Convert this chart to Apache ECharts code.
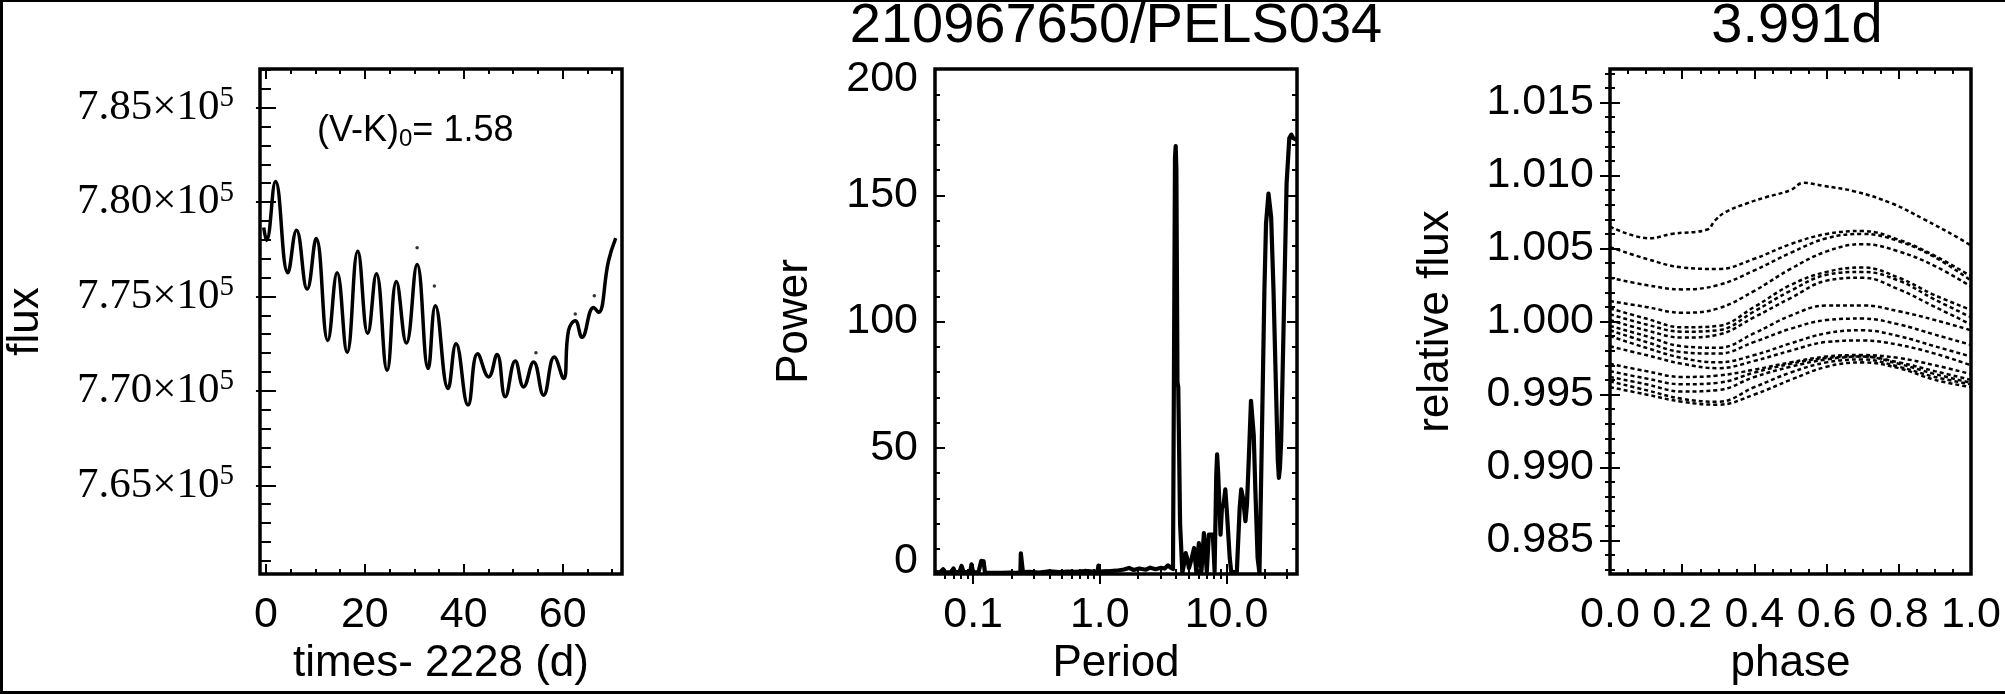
<!DOCTYPE html>
<html><head><meta charset="utf-8">
<script src="https://cdn.jsdelivr.net/npm/echarts@6/dist/echarts.min.js"></script>
<style>html,body{margin:0;padding:0;background:#fff}#c{width:2005px;height:694px}</style>
</head><body><div id="c"></div>
<script>
// ---------------- Panel 1 : light curve ----------------
const lcTime = [-0.45, 0.12, 1.94, 4.43, 6.18, 8.34, 10.16, 12.51, 14.4, 16.42, 18.57, 20.59, 22.34, 24.5, 26.38, 28.4, 30.57, 32.8, 34.26, 36.83, 38.44, 40.87, 42.81, 45.03, 46.73, 48.4, 50.42, 52.1, 54.12, 56.14, 58.3, 60.18, 61.19, 62.55, 63.9, 66.24, 67.25, 69.27, 70.73];
const lcFlux = [778650, 777970, 781090, 776260, 778510, 775390, 778070, 772670, 776260, 772050, 777400, 773050, 776210, 771090, 775790, 772530, 776700, 771180, 774510, 770130, 772500, 769250, 771970, 770740, 771930, 769690, 771580, 770210, 771530, 769770, 771790, 770650, 773200, 773720, 772840, 774420, 774160, 776880, 778090];
const lcOutTime = [30.57, 34.06, 54.6, 62.55, 66.4];
const lcOutFlux = [777580, 775560, 772020, 774070, 775040];
const timeTicks = [0, 20, 40, 60];
const fluxTicks = [765000, 770000, 775000, 780000, 785000];

// ---------------- Panel 2 : periodogram ----------------
const pgPeriod = [0.050, 0.055, 0.058, 0.060, 0.062, 0.067, 0.070, 0.072, 0.078, 0.081, 0.084, 0.090, 0.095, 0.097, 0.100, 0.110, 0.116, 0.118, 0.121, 0.124, 0.140, 0.170, 0.195, 0.200, 0.206, 0.225, 0.236, 0.238, 0.243, 0.247, 0.280, 0.330, 0.400, 0.480, 0.560, 0.650, 0.760, 0.880, 0.960, 0.975, 0.990, 1.15, 1.35, 1.55, 1.70, 1.85, 2.05, 2.30, 2.50, 2.75, 3.00, 3.25, 3.45, 3.60, 3.78, 3.92, 3.97, 4.02, 4.10, 4.16, 4.30, 4.48, 4.62, 4.76, 4.90, 5.05, 5.30, 5.55, 5.77, 6.05, 6.34, 6.63, 6.99, 7.25, 7.80, 8.05, 8.30, 8.43, 8.60, 8.97, 9.20, 9.48, 9.78, 10.10, 10.60, 10.90, 12.06, 12.70, 13.06, 13.50, 14.10, 14.50, 15.00, 15.60, 16.00, 16.40, 16.90, 17.60, 18.20, 18.80, 19.90, 20.50, 21.44, 22.50, 23.50, 24.60, 25.40, 25.90, 26.40, 27.00, 28.60, 29.80, 31.30, 32.50, 33.60, 35.90];
const pgPower = [0.8, 0.7, 1.9, 0.7, 0.8, 0.8, 2.2, 0.8, 0.8, 3.2, 0.8, 0.8, 0.9, 3.8, 0.8, 0.6, 5.2, 5.0, 5.0, 0.6, 0.5, 0.5, 0.6, 1.3, 0.5, 0.6, 0.8, 8.2, 7.5, 0.8, 0.9, 0.6, 1.1, 0.8, 1.0, 0.9, 1.2, 1.0, 1.1, 3.3, 1.0, 1.1, 1.3, 1.8, 2.4, 1.6, 2.2, 1.7, 2.5, 1.9, 2.4, 2.2, 3.4, 2.6, 2.0, 165, 169.5, 160, 76, 74, 20, 0.5, 4, 8.3, 6, 2.3, 6, 10.3, 1.0, 12.2, 1.0, 16.2, 1.0, 15.6, 15.6, 1.0, 39.4, 47.4, 39.4, 15.6, 26.2, 27.5, 33.5, 23.5, 6.3, 0.8, 0.8, 26.2, 33.5, 30.1, 20.9, 27.5, 46, 68.6, 68.6, 55, 32.8, 6.3, 0.3, 40, 112, 138.8, 150.7, 141.4, 112, 72.5, 45, 38.1, 42, 52.7, 112, 154.7, 172.6, 174, 172.6, 172];
const periodTicks = [0.1, 1, 10];
const periodMinorTicks = [0.06, 0.07, 0.08, 0.09, 0.2, 0.3, 0.4, 0.5, 0.6, 0.7, 0.8, 0.9, 2, 3, 4, 5, 6, 7, 8, 9, 20, 30];
const powerTicks = [0, 50, 100, 150, 200];

// ---------------- Panel 3 : phase-folded curves ----------------
const cycleAPhase = [0, 0.11, 0.17, 0.27, 0.29, 0.32, 0.38, 0.43, 0.5, 0.535, 0.59, 0.68, 0.78, 0.87, 0.96, 1.0];
const cycleAFlux = [1.0065, 1.0057, 1.0060, 1.0063, 1.0069, 1.0075, 1.0081, 1.0085, 1.0090, 1.0095, 1.0093, 1.0089, 1.0081, 1.0070, 1.0058, 1.0052];
const phaseGrid = [0, 0.1, 0.2, 0.3, 0.4, 0.5, 0.6, 0.7, 0.8, 0.9, 1.0];
const cycleFlux = [
  [1.0051, 1.0043, 1.0037, 1.0036, 1.0043, 1.0053, 1.0060, 1.0062, 1.0056, 1.0045, 1.0031],
  [1.0030, 1.0025, 1.0022, 1.0025, 1.0035, 1.0047, 1.0057, 1.0060, 1.0055, 1.0044, 1.0028],
  [1.0014, 1.0010, 1.0006, 1.0009, 1.0021, 1.0036, 1.0048, 1.0053, 1.0048, 1.0038, 1.0024],
  [1.0009, 1.0002, 0.9996, 0.9997, 1.0010, 1.0025, 1.0034, 1.0037, 1.0030, 1.0018, 1.0008],
  [1.0005, 0.9998, 0.9993, 0.9994, 1.0007, 1.0021, 1.0032, 1.0034, 1.0028, 1.0015, 1.0003],
  [1.0001, 0.9994, 0.9989, 0.9991, 1.0003, 1.0016, 1.0028, 1.0030, 1.0022, 1.0010, 0.9998],
  [0.9997, 0.9990, 0.9983, 0.9982, 0.9992, 1.0004, 1.0011, 1.0011, 1.0007, 1.0001, 0.9994],
  [0.9994, 0.9986, 0.9979, 0.9978, 0.9986, 0.9995, 1.0001, 1.0002, 0.9998, 0.9991, 0.9984],
  [0.9990, 0.9982, 0.9975, 0.9972, 0.9977, 0.9985, 0.9992, 0.9994, 0.9990, 0.9983, 0.9976],
  [0.9983, 0.9977, 0.9971, 0.9968, 0.9973, 0.9980, 0.9986, 0.9987, 0.9984, 0.9978, 0.9970],
  [0.9971, 0.9966, 0.9962, 0.9963, 0.9967, 0.9972, 0.9976, 0.9977, 0.9975, 0.9970, 0.9964],
  [0.9966, 0.9961, 0.9957, 0.9958, 0.9965, 0.9971, 0.9975, 0.9976, 0.9972, 0.9966, 0.9960],
  [0.9962, 0.9957, 0.9952, 0.9953, 0.9962, 0.9969, 0.9974, 0.9976, 0.9971, 0.9964, 0.9958],
  [0.9959, 0.9953, 0.9947, 0.9945, 0.9955, 0.9965, 0.9972, 0.9974, 0.9969, 0.9962, 0.9957],
  [0.9955, 0.9950, 0.9945, 0.9943, 0.9950, 0.9960, 0.9969, 0.9972, 0.9968, 0.9960, 0.9955]
];
const phaseTicks = [0, 0.2, 0.4, 0.6, 0.8, 1.0];
const relTicks = [0.985, 0.990, 0.995, 1.000, 1.005, 1.010, 1.015];

// ---------------- helpers ----------------
function steps(a, b, s, skip) {
  const out = [];
  for (let i = 0; a + i * s <= b + 1e-9; i++) {
    const v = +(a + i * s).toFixed(6);
    if (!skip.some(k => Math.abs(k - v) < s * 1e-3)) out.push(v);
  }
  return out;
}
const SANS = 'Liberation Sans';
const LAB = 43;
const xAxes = [], yAxes = [];
function tickAxis(base, kind, vals, show, lab) {
  return Object.assign({}, base, {
    axisLine: { show: false }, splitLine: { show: false }, minorTick: { show: false },
    axisTick: { show: true, inside: true, length: kind === 'major' ? 10 : 5,
      lineStyle: { color: '#000', width: 2 }, customValues: vals },
    axisLabel: show ? lab : { show: false },
    name: show ? base.name : ''
  });
}
function addBox(g, xc, yc) {
  const xi = xAxes.length, yi = yAxes.length;
  ['bottom', 'top'].forEach(pos => {
    const b = { gridIndex: g, type: xc.type, min: xc.min, max: xc.max, position: pos, offset: 0,
      name: xc.name, nameLocation: 'middle', nameGap: xc.nameGap,
      nameTextStyle: { fontFamily: SANS, fontSize: 44, color: '#000' } };
    if (xc.type === 'log') b.logBase = 10;
    xAxes.push(tickAxis(b, 'major', xc.major, pos === 'bottom', Object.assign({ customValues: xc.major }, xc.label)));
    xAxes.push(tickAxis(b, 'minor', xc.minor, false));
  });
  ['left', 'right'].forEach(pos => {
    const b = { gridIndex: g, type: 'value', min: yc.min, max: yc.max, position: pos, offset: 0,
      name: yc.name, nameLocation: 'middle', nameGap: yc.nameGap,
      nameTextStyle: { fontFamily: SANS, fontSize: 44, color: '#000' } };
    yAxes.push(tickAxis(b, 'major', yc.major, pos === 'left', Object.assign({ customValues: yc.major }, yc.label)));
    yAxes.push(tickAxis(b, 'minor', yc.minor, false));
  });
  return [xi, yi];
}
const labSans = { color: '#000', fontFamily: SANS, fontSize: LAB };

// Panel 1 axes
const p1 = addBox(0,
  { type: 'value', min: -1.2, max: 72, major: timeTicks, minor: steps(5, 70, 5, timeTicks),
    name: 'times- 2228 (d)', nameGap: 68,
    label: Object.assign({ margin: 20, formatter: v => String(v) }, labSans) },
  { min: 760300, max: 787050, major: fluxTicks, minor: steps(761000, 787000, 1000, fluxTicks),
    name: 'flux', nameGap: 212,
    label: { margin: 26, formatter: v => '{a|' + (v / 1e5).toFixed(2) + '×10}{s|5}',
      rich: { a: { fontFamily: 'Liberation Serif', fontSize: 43, color: '#000', lineHeight: 47 },
              s: { fontFamily: 'Liberation Serif', fontSize: 29, color: '#000', verticalAlign: 'top', lineHeight: 47 } } } });
// Panel 2 axes (end labels nudged inward like the original)
const p2 = addBox(1,
  { type: 'log', min: 0.05, max: 36, major: periodTicks, minor: periodMinorTicks,
    name: 'Period', nameGap: 67,
    label: Object.assign({ margin: 20, formatter: v => v.toFixed(1) }, labSans) },
  { min: 0, max: 200, major: powerTicks, minor: steps(10, 190, 10, powerTicks),
    name: 'Power', nameGap: 118,
    label: { margin: 17,
      formatter: v => v === 200 ? '{t|200}' : (v === 0 ? '{b|0}' : '{n|' + v + '}'),
      rich: { t: Object.assign({ padding: [20, 0, 0, 0] }, labSans),
              b: Object.assign({ padding: [0, 0, 26, 0] }, labSans),
              n: Object.assign({}, labSans) } } });
// Panel 3 axes
const p3 = addBox(2,
  { type: 'value', min: 0, max: 1, major: phaseTicks, minor: steps(0.05, 0.95, 0.05, phaseTicks),
    name: 'phase', nameGap: 67,
    label: Object.assign({ margin: 20, formatter: v => v.toFixed(1) }, labSans) },
  { min: 0.9827, max: 1.0173, major: relTicks, minor: steps(0.983, 1.017, 0.001, relTicks),
    name: 'relative flux', nameGap: 152,
    label: Object.assign({ margin: 16, formatter: v => v.toFixed(3) }, labSans) });

const zip = (a, b) => a.map((v, i) => [v, b[i]]);
const series = [];
series.push({ type: 'line', xAxisIndex: p1[0], yAxisIndex: p1[1], data: zip(lcTime, lcFlux),
  showSymbol: false, smooth: 0.45, lineStyle: { color: '#000', width: 3.5 }, silent: true });
series.push({ type: 'scatter', xAxisIndex: p1[0], yAxisIndex: p1[1], data: zip(lcOutTime, lcOutFlux),
  symbolSize: 3.5, itemStyle: { color: '#000' }, silent: true });
series.push({ type: 'line', xAxisIndex: p2[0], yAxisIndex: p2[1], data: zip(pgPeriod, pgPower),
  showSymbol: false, smooth: false, lineStyle: { color: '#000', width: 4.2, join: 'round' }, silent: true });
series.push({ type: 'line', xAxisIndex: p3[0], yAxisIndex: p3[1], data: zip(cycleAPhase, cycleAFlux),
  showSymbol: false, smooth: 0.4, lineStyle: { color: '#000', width: 2.5, type: [4, 3] }, silent: true });
cycleFlux.forEach(arr => series.push({ type: 'line', xAxisIndex: p3[0], yAxisIndex: p3[1], data: zip(phaseGrid, arr),
  showSymbol: false, smooth: 0.4, lineStyle: { color: '#000', width: 2.5, type: [4, 3] }, silent: true }));

const T = (x, y, text, size) => ({ type: 'text', x: x, y: y, silent: true,
  style: { text: text, fill: '#000', font: size + 'px "' + SANS + '"', fontFamily: SANS, fontSize: size,
    align: 'center', verticalAlign: 'middle', textAlign: 'center', textVerticalAlign: 'middle' } });

const chart = echarts.init(document.getElementById('c'), null, { renderer: 'canvas', width: 2005, height: 694 });
chart.setOption({
  animation: false,
  backgroundColor: '#fff',
  grid: [
    { left: 260, top: 69, width: 362, height: 505, show: true, borderColor: '#000', borderWidth: 3.5, backgroundColor: 'transparent' },
    { left: 935, top: 69, width: 362, height: 505, show: true, borderColor: '#000', borderWidth: 3.5, backgroundColor: 'transparent' },
    { left: 1610, top: 69, width: 361, height: 505, show: true, borderColor: '#000', borderWidth: 3.5, backgroundColor: 'transparent' }
  ],
  xAxis: xAxes,
  yAxis: yAxes,
  series: series,
  graphic: [
    T(1116, 27, '210967650/PELS034', 56),
    T(1797, 27, '3.991d', 56),
    { type: 'text', x: 317, y: 131, silent: true,
      style: { text: '{a|(V-K)}{b|0}{a|= 1.58}', align: 'left', verticalAlign: 'middle', textAlign: 'left', textVerticalAlign: 'middle',
        rich: { a: { fontFamily: SANS, fontSize: 36, fill: '#000', color: '#000', lineHeight: 40 },
                b: { fontFamily: SANS, fontSize: 24, fill: '#000', color: '#000', verticalAlign: 'bottom', lineHeight: 40 } } } },
    { type: 'rect', shape: { x: 0, y: 0, width: 3, height: 694 }, style: { fill: '#000' }, silent: true },
    { type: 'rect', shape: { x: 0, y: 0, width: 2005, height: 2 }, style: { fill: '#000' }, silent: true },
    { type: 'rect', shape: { x: 0, y: 691, width: 2005, height: 3 }, style: { fill: '#000' }, silent: true }
  ]
});
</script>
</body></html>
